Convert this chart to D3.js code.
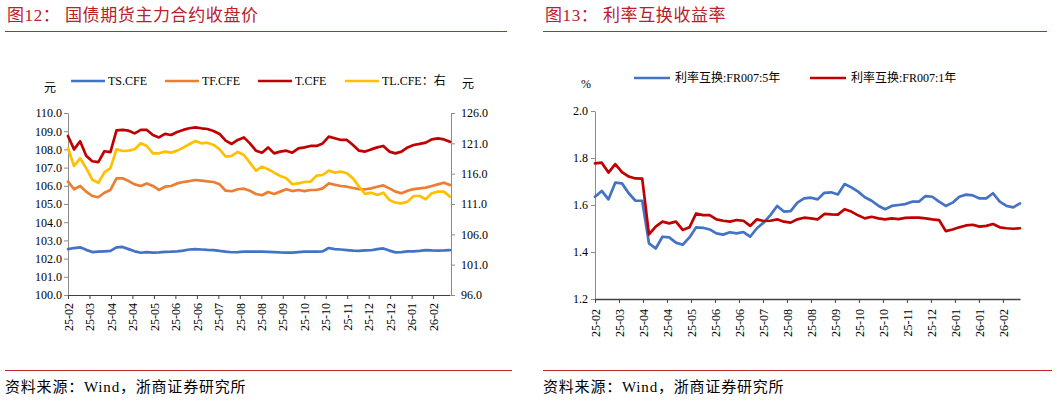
<!DOCTYPE html>
<html lang="zh">
<head>
<meta charset="UTF-8">
<title>国债期货主力合约收盘价 / 利率互换收益率</title>
<script src="https://d3js.org/d3.v7.min.js"></script>
<style>
  body { margin: 0; background: #fff; }
  svg { display: block; }
  text { font-family: "Liberation Serif", "Noto Sans CJK SC", serif; fill: #000; }
  .title { font-size: 17px; fill: #b8202a; letter-spacing: 0.6px; }
  .source { font-size: 15px; letter-spacing: 0.8px; }
  .axis text { font-size: 12px; }
  .axis-y path, .axis-y line { stroke: #8c8c8c; }
  .axis-x path, .axis-x line { stroke: #404040; }
  .series { fill: none; stroke-width: 2.7; stroke-linejoin: round; stroke-linecap: round; }
</style>
</head>
<body>
<svg id="chart" width="1057" height="402"></svg>
<script>
// ---- data: chart 1 (国债期货主力合约收盘价), 64 samples across the period ----
const labels1 = ["25-02","25-03","25-04","25-04","25-05","25-06","25-06","25-07","25-08",
                 "25-08","25-09","25-10","25-10","25-11","25-12","25-12","26-01","26-02"];
const tsData = [102.52,102.58,102.62,102.48,102.36,102.38,102.40,102.42,102.62,102.64,102.52,102.40,102.32,102.36,102.33,102.34,
                102.37,102.38,102.40,102.44,102.50,102.52,102.50,102.48,102.47,102.42,102.38,102.35,102.36,102.38,102.38,102.38,
                102.38,102.37,102.36,102.34,102.33,102.33,102.36,102.38,102.38,102.38,102.40,102.58,102.52,102.50,102.47,102.44,
                102.42,102.45,102.46,102.52,102.56,102.44,102.34,102.36,102.40,102.40,102.42,102.47,102.45,102.44,102.45,102.47];
const tfData = [106.23,105.81,105.99,105.68,105.44,105.37,105.62,105.77,106.41,106.41,106.26,106.08,105.99,106.13,105.99,105.77,
                105.95,105.99,106.13,106.21,106.26,106.32,106.28,106.24,106.21,106.08,105.73,105.70,105.81,105.84,105.73,105.55,
                105.48,105.66,105.55,105.68,105.81,105.71,105.77,105.71,105.77,105.77,105.86,106.13,106.06,105.99,105.95,105.88,
                105.82,105.81,105.86,105.95,106.02,105.86,105.68,105.59,105.73,105.82,105.86,105.90,105.99,106.08,106.17,106.04];
const tData  = [108.74,108.00,108.45,107.65,107.35,107.30,107.90,107.85,109.05,109.07,109.03,108.88,109.07,109.07,108.79,108.66,
                108.85,108.79,108.96,109.07,109.16,109.21,109.16,109.12,109.01,108.85,108.48,108.30,108.52,108.66,108.33,107.93,
                107.82,108.11,107.78,107.88,107.93,107.82,108.06,108.11,108.19,108.19,108.33,108.70,108.61,108.52,108.52,108.24,
                107.93,107.88,108.00,108.11,108.19,107.88,107.78,107.88,108.11,108.24,108.30,108.37,108.55,108.61,108.55,108.42];
// TL.CFE on the right axis
const tlData = [120.18,117.27,118.53,116.90,115.00,114.50,116.20,116.90,120.02,119.74,119.80,120.02,121.00,120.56,119.36,119.36,
                119.63,119.47,119.80,120.29,120.84,121.39,121.00,121.11,120.73,120.02,118.81,118.92,119.58,119.08,117.82,116.50,
                117.16,116.72,116.17,115.62,115.23,114.25,114.41,114.63,114.69,115.67,115.78,116.50,116.17,116.33,116.06,115.23,
                113.86,112.65,112.87,112.49,112.87,111.66,111.22,111.11,111.39,112.32,112.32,111.77,112.76,113.04,113.04,112.21];

// ---- data: chart 2 (利率互换收益率) ----
const labels2 = ["25-02","25-03","25-04","25-04","25-05","25-06","25-06","25-07","25-08",
                 "25-08","25-09","25-10","25-10","25-11","25-12","26-01","26-01","26-02"];
const irs5y = [1.635,1.660,1.624,1.695,1.692,1.650,1.618,1.618,1.437,1.415,1.465,1.462,1.440,1.431,1.462,1.505,
               1.503,1.496,1.479,1.474,1.484,1.479,1.485,1.465,1.501,1.525,1.557,1.596,1.572,1.574,1.610,1.628,
               1.631,1.624,1.652,1.654,1.645,1.689,1.675,1.657,1.633,1.618,1.597,1.582,1.596,1.600,1.604,1.614,
               1.614,1.638,1.635,1.614,1.596,1.610,1.635,1.644,1.641,1.628,1.628,1.650,1.614,1.596,1.590,1.607];
const irs1y = [1.777,1.780,1.738,1.774,1.740,1.721,1.713,1.712,1.475,1.508,1.529,1.522,1.529,1.494,1.505,1.564,
               1.557,1.557,1.539,1.533,1.529,1.536,1.533,1.511,1.539,1.532,1.533,1.539,1.529,1.525,1.539,1.546,
               1.543,1.539,1.562,1.560,1.559,1.582,1.572,1.556,1.543,1.550,1.543,1.539,1.543,1.540,1.545,1.546,
               1.546,1.543,1.539,1.536,1.489,1.496,1.505,1.513,1.516,1.508,1.511,1.519,1.505,1.501,1.499,1.501];

const TICK_EVERY = 14;   // trading days between category labels

const svg = d3.select("#chart");

// titles, rules and source lines
function frame(x0, x1, num, title) {
    svg.append("text").attr("class", "title").attr("x", x0 + 2).attr("y", 21).text(num);
    svg.append("text").attr("class", "title").attr("x", x0 + 60).attr("y", 21).text(title);
    svg.append("line").attr("x1", x0).attr("x2", x1).attr("y1", 31.5).attr("y2", 31.5)
        .attr("stroke", "#c0272d").attr("stroke-width", 1);
    svg.append("line").attr("x1", x0).attr("x2", x1 + 5).attr("y1", 370.5).attr("y2", 370.5)
        .attr("stroke", "#c0272d").attr("stroke-width", 1);
    svg.append("text").attr("class", "source").attr("x", x0).attr("y", 392)
        .text("资料来源：Wind，浙商证券研究所");
}
frame(5, 507, "图12：", "国债期货主力合约收盘价");
frame(543, 1047, "图13：", "利率互换收益率");

function xAxis(g, x, labels, y0) {
    const ax = g.append("g").attr("class", "axis axis-x")
        .attr("transform", `translate(0,${y0})`)
        .call(d3.axisBottom(x)
            .tickValues(labels.map((d, i) => i * TICK_EVERY))
            .tickFormat((d, i) => labels[i])
            .tickSize(4).tickSizeOuter(0));
    ax.selectAll("text")
        .attr("transform", "rotate(-90)")
        .attr("x", -8).attr("y", 0).attr("dy", "0.35em")
        .style("text-anchor", "end");
    return ax;
}

function drawLine(g, x, y, data, span, color) {
    const step = span / (data.length - 1);
    g.append("path").attr("class", "series")
        .attr("stroke", color)
        .attr("d", d3.line().x((d, i) => x(i * step)).y(d => y(d))(data));
}

// ---------- chart 1 ----------
{
    const span = 249;
    const x = d3.scaleLinear().domain([0, span]).range([68, 450]);
    const yL = d3.scaleLinear().domain([100, 110]).range([295, 113]);
    const yR = d3.scaleLinear().domain([96, 126]).range([295, 113]);
    const g = svg.append("g");

    g.append("g").attr("class", "axis axis-y").attr("transform", "translate(68,0)")
        .call(d3.axisLeft(yL).tickValues(d3.range(100, 110.01, 1)).tickFormat(d3.format(".1f"))
            .tickSize(4).tickPadding(2).tickSizeOuter(0));
    g.append("g").attr("class", "axis axis-y").attr("transform", "translate(451,0)")
        .call(d3.axisRight(yR).tickValues(d3.range(96, 126.01, 5)).tickFormat(d3.format(".1f"))
            .tickSize(4).tickPadding(6).tickSizeOuter(0));
    xAxis(g, x, labels1, 295);

    const colors = ["#4472c4", "#ed7d31", "#c00000", "#ffc000"];
    drawLine(g, x, yL, tsData, span, colors[0]);
    drawLine(g, x, yL, tfData, span, colors[1]);
    drawLine(g, x, yL, tData, span, colors[2]);
    drawLine(g, x, yR, tlData, span, colors[3]);

    g.append("text").attr("x", 44).attr("y", 92).style("font-size", "12px").text("元");
    g.append("text").attr("x", 462).attr("y", 88).style("font-size", "12px").text("元");

    const names = ["TS.CFE", "TF.CFE", "T.CFE", "TL.CFE：右"];
    const lx = [71, 165, 258, 345];
    names.forEach((n, i) => {
        g.append("line").attr("x1", lx[i]).attr("x2", lx[i] + 34).attr("y1", 81).attr("y2", 81)
            .attr("stroke", colors[i]).attr("stroke-width", 2.7);
        g.append("text").attr("x", lx[i] + 37).attr("y", 85).style("font-size", "12px").text(n);
    });
}

// ---------- chart 2 ----------
{
    const span = 248;
    const x = d3.scaleLinear().domain([0, span]).range([595, 1020]);
    const y = d3.scaleLinear().domain([1.2, 2.0]).range([299, 111]);
    const g = svg.append("g");

    g.append("g").attr("class", "axis axis-y").attr("transform", "translate(595,0)")
        .call(d3.axisLeft(y).tickValues(d3.range(1.2, 2.01, 0.2)).tickFormat(d3.format(".1f"))
            .tickSize(4).tickPadding(3).tickSizeOuter(0));
    const ax = xAxis(g, x, labels2, 299);
    ax.select(".domain").attr("stroke-width", 1.6);
    ax.selectAll("text").attr("x", -10);

    const colors = ["#4472c4", "#c00000"];
    drawLine(g, x, y, irs5y, span, colors[0]);
    drawLine(g, x, y, irs1y, span, colors[1]);

    g.append("text").attr("x", 581).attr("y", 88).style("font-size", "12px").text("%");

    const names = ["利率互换:FR007:5年", "利率互换:FR007:1年"];
    const lx = [634, 810];
    names.forEach((n, i) => {
        g.append("line").attr("x1", lx[i]).attr("x2", lx[i] + 36).attr("y1", 78).attr("y2", 78)
            .attr("stroke", colors[i]).attr("stroke-width", 2.7);
        g.append("text").attr("x", lx[i] + 41).attr("y", 82).style("font-size", "12px").text(n);
    });
}
</script>
</body>
</html>
